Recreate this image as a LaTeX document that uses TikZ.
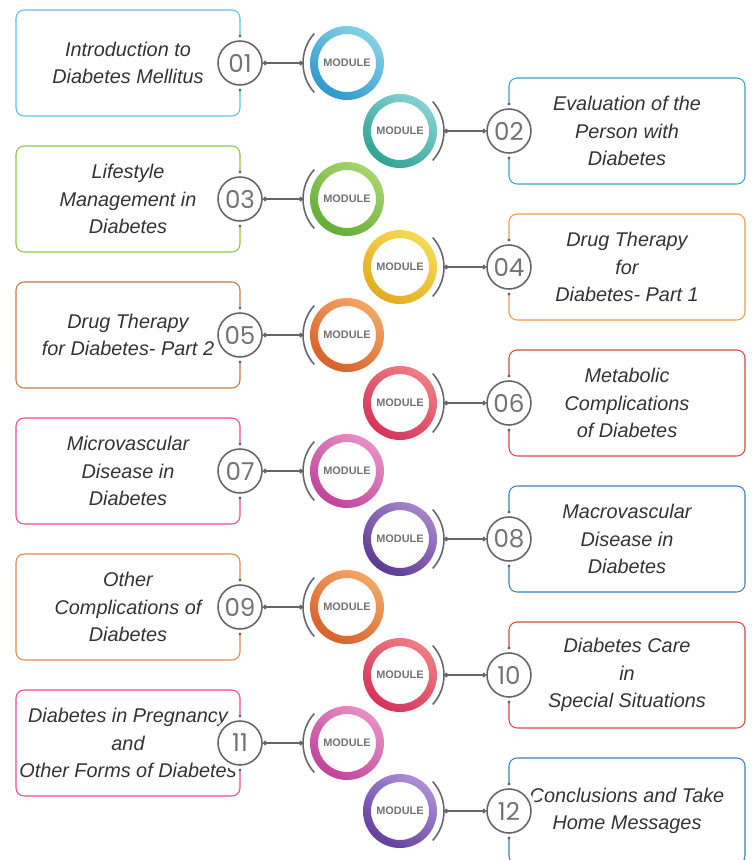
\documentclass[tikz,border=0pt]{standalone}
\usepackage{fontspec}
\setmainfont{Liberation Sans}
\newfontfamily\numfont{Poppins}
\usetikzlibrary{arrows.meta,calc}

\definecolor{ringA1}{HTML}{2E98CC}\definecolor{ringB1}{HTML}{86D2E6}
\definecolor{ringA2}{HTML}{2FA392}\definecolor{ringB2}{HTML}{86D0D2}
\definecolor{ringA3}{HTML}{62AD35}\definecolor{ringB3}{HTML}{A8D470}
\definecolor{ringA4}{HTML}{E2AC1E}\definecolor{ringB4}{HTML}{F6DA55}
\definecolor{ringA5}{HTML}{D8602A}\definecolor{ringB5}{HTML}{F2A665}
\definecolor{ringA6}{HTML}{D6335A}\definecolor{ringB6}{HTML}{EF7D84}
\definecolor{ringA7}{HTML}{BF4399}\definecolor{ringB7}{HTML}{E690C6}
\definecolor{ringA8}{HTML}{5C3A92}\definecolor{ringB8}{HTML}{A685CC}
\definecolor{ringA9}{HTML}{D8602A}\definecolor{ringB9}{HTML}{F2A665}
\definecolor{ringA10}{HTML}{D6335A}\definecolor{ringB10}{HTML}{EF7D84}
\definecolor{ringA11}{HTML}{BF4399}\definecolor{ringB11}{HTML}{E690C6}
\definecolor{ringA12}{HTML}{633D9C}\definecolor{ringB12}{HTML}{AD90D6}
\definecolor{edge1}{HTML}{5BBFEA}
\definecolor{edge2}{HTML}{3AA5BE}
\definecolor{edge3}{HTML}{8DC63F}
\definecolor{edge4}{HTML}{F39A4F}
\definecolor{edge5}{HTML}{C27A46}
\definecolor{edge6}{HTML}{D9483D}
\definecolor{edge7}{HTML}{E8479A}
\definecolor{edge8}{HTML}{3D7CC0}
\definecolor{edge9}{HTML}{E3894A}
\definecolor{edge10}{HTML}{D9483D}
\definecolor{edge11}{HTML}{E8479A}
\definecolor{edge12}{HTML}{3D7CC0}

\begin{document}
\begin{tikzpicture}
    [
        x=0.02cm, y=-0.02cm,
        topic/.style={draw, rounded corners=0.16cm, line width=0.6pt,
            minimum width=4.48cm, minimum height=2.12cm, align=center,
            inner xsep=0pt,
            font=\itshape\fontsize{11.3}{15.6}\selectfont, text=black!80,},
        topicR/.style={topic, minimum width=4.72cm,},
        num/.style={circle, draw=black!60, line width=0.9pt, fill=white,
            minimum size=0.88cm, inner sep=0pt, text=black!55,
            font=\numfont\fontsize{14}{14}\selectfont,
            preaction={draw=white, line width=6pt},},
        module/.style={circle, fill=white, minimum size=1.16cm, inner sep=0pt,
            font=\bfseries\fontsize{6.2}{7}\selectfont, text=black!55,},
        link/.style={draw=black!60, line width=0.7pt,
            {Circle[length=2.6pt]}-{Circle[length=2.6pt]},},
        bracket/.style={draw=black!60, line width=0.9pt,},
    ]
    \useasboundingbox (0,0) rectangle (754,860);

    % topic boxes
    \node (t1)  at (128,63)  [topic, draw=edge1]   {Introduction to\\Diabetes Mellitus};
    \node (t2)  at (627,131) [topicR, draw=edge2]  {Evaluation of the\\Person with\\Diabetes};
    \node (t3)  at (128,199) [topic, draw=edge3]   {Lifestyle\\Management in\\Diabetes};
    \node (t4)  at (627,267) [topicR, draw=edge4]  {Drug Therapy\\for\\Diabetes- Part 1};
    \node (t5)  at (128,335) [topic, draw=edge5]   {Drug Therapy\\for Diabetes- Part 2};
    \node (t6)  at (627,403) [topicR, draw=edge6]  {Metabolic\\Complications\\of Diabetes};
    \node (t7)  at (128,471) [topic, draw=edge7]   {Microvascular\\Disease in\\Diabetes};
    \node (t8)  at (627,539) [topicR, draw=edge8]  {Macrovascular\\Disease in\\Diabetes};
    \node (t9)  at (128,607) [topic, draw=edge9]   {Other\\Complications of\\Diabetes};
    \node (t10) at (627,675) [topicR, draw=edge10] {Diabetes Care\\in\\Special Situations};
    \node (t11) at (128,743) [topic, draw=edge11]  {Diabetes in Pregnancy\\and\\Other Forms of Diabetes};
    \node (t12) at (627,811) [topicR, draw=edge12] {Conclusions and Take\\Home Messages};

    % numbers
    \node (n1)  at (240,63)  [num] {01};
    \node (n2)  at (509,131) [num] {02};
    \node (n3)  at (240,199) [num] {03};
    \node (n4)  at (509,267) [num] {04};
    \node (n5)  at (240,335) [num] {05};
    \node (n6)  at (509,403) [num] {06};
    \node (n7)  at (240,471) [num] {07};
    \node (n8)  at (509,539) [num] {08};
    \node (n9)  at (240,607) [num] {09};
    \node (n10) at (509,675) [num] {10};
    \node (n11) at (240,743) [num] {11};
    \node (n12) at (509,811) [num] {12};

    % modules
    \node (m1)  at (347,63)  [module] {MODULE};
    \node (m2)  at (400,131) [module] {MODULE};
    \node (m3)  at (347,199) [module] {MODULE};
    \node (m4)  at (400,267) [module] {MODULE};
    \node (m5)  at (347,335) [module] {MODULE};
    \node (m6)  at (400,403) [module] {MODULE};
    \node (m7)  at (347,471) [module] {MODULE};
    \node (m8)  at (400,539) [module] {MODULE};
    \node (m9)  at (347,607) [module] {MODULE};
    \node (m10) at (400,675) [module] {MODULE};
    \node (m11) at (347,743) [module] {MODULE};
    \node (m12) at (400,811) [module] {MODULE};

    % rings, brackets and links
    \foreach \i/\a in {1/180,2/0,3/180,4/0,5/180,6/0,7/180,8/0,9/180,10/0,11/180,12/0}
    {
        \shade [even odd rule, top color=ringB\i, bottom color=ringA\i, shading angle=-35]
            (m\i.center) circle [radius=37] (m\i.center) circle [radius=29];
        \draw [bracket] ($(m\i.center)+(\a-42:44)$) arc [start angle=\a-42, end angle=\a+42, radius=44];
        \coordinate (b\i) at ($(m\i.center)+(\a:44)$);
        \draw [link] (n\i) -- (b\i);
        \fill [black!60] ($(n\i.center)+(0,-27)$) circle [radius=1.6];
        \fill [black!60] ($(n\i.center)+(0,27)$) circle [radius=1.6];
    }

\end{tikzpicture}
\end{document}
